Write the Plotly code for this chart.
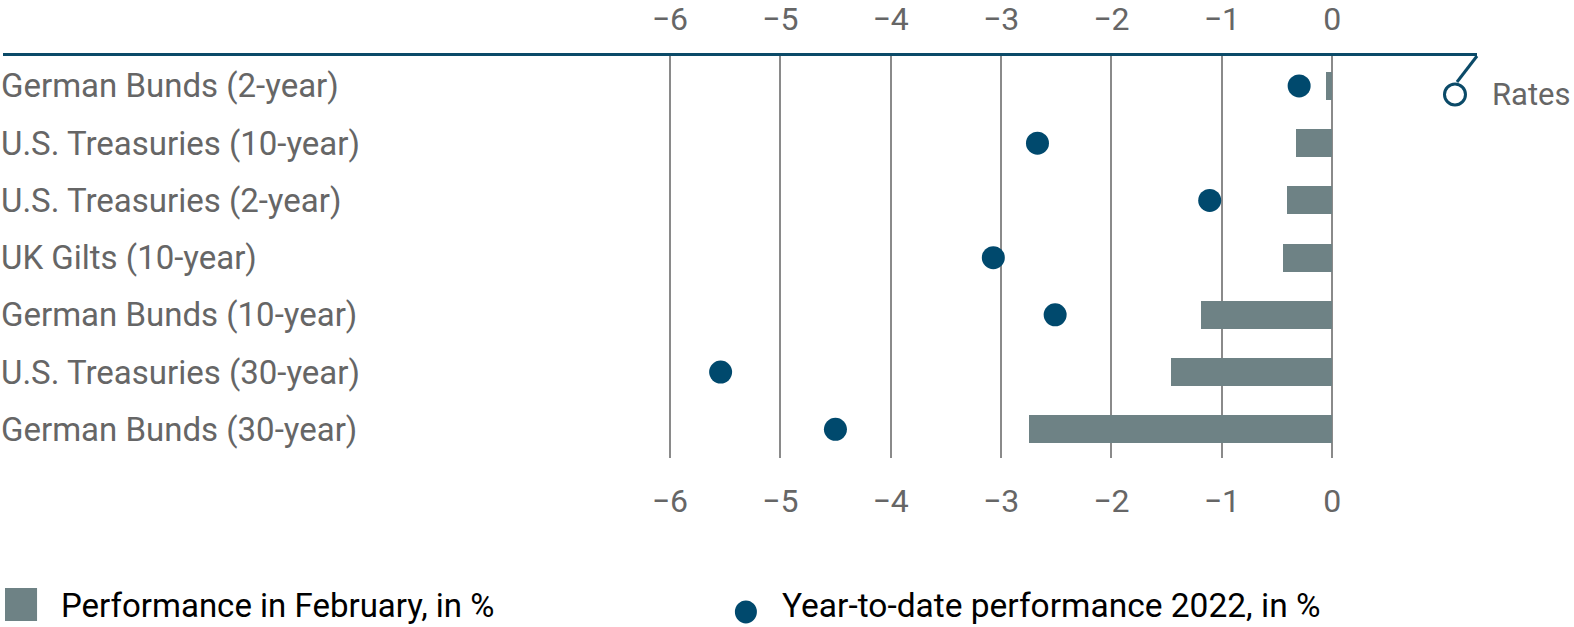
import plotly.graph_objects as go

# Bond performance, in %
categories = [
    "German Bunds (2-year)",
    "U.S. Treasuries (10-year)",
    "U.S. Treasuries (2-year)",
    "UK Gilts (10-year)",
    "German Bunds (10-year)",
    "U.S. Treasuries (30-year)",
    "German Bunds (30-year)",
]
feb_perf = [-0.06, -0.33, -0.41, -0.45, -1.19, -1.46, -2.75]
ytd_perf = [-0.30, -2.67, -1.11, -3.07, -2.51, -5.54, -4.50]
tick_vals = [-6, -5, -4, -3, -2, -1, 0]

BAR_COLOR = "#6e8285"
DOT_COLOR = "#00496d"
LINE_COLOR = "#0b4a68"
TEXT_GRAY = "#666666"
FONT = "Roboto"

fig = go.Figure()

fig.add_trace(go.Bar(
    x=feb_perf,
    y=categories,
    orientation="h",
    width=0.49,
    marker=dict(color=BAR_COLOR, line=dict(width=0)),
    name="Performance in February, in %",
    showlegend=False,
))

fig.add_trace(go.Scatter(
    x=ytd_perf,
    y=categories,
    mode="markers",
    marker=dict(color=DOT_COLOR, size=23, line=dict(width=0)),
    name="Year-to-date performance 2022, in %",
    showlegend=False,
))

# invisible trace so the top axis gets drawn
fig.add_trace(go.Scatter(x=[None], y=[None], xaxis="x2", showlegend=False, hoverinfo="skip"))

x_range = [-12.04, 1.311]

fig.update_layout(
    width=1574,
    height=627,
    margin=dict(l=3, r=97, t=56, b=169),
    paper_bgcolor="white",
    plot_bgcolor="white",
    font=dict(family=FONT, size=32, color=TEXT_GRAY),
    xaxis=dict(
        range=x_range,
        tickvals=tick_vals,
        showgrid=True,
        gridcolor="#8a8a8a",
        gridwidth=1.5,
        zeroline=False,
        showline=False,
        ticks="",
        automargin=False,
        ticklabelstandoff=21,
        tickfont=dict(family=FONT, size=32, color=TEXT_GRAY),
    ),
    xaxis2=dict(
        range=x_range,
        overlaying="x",
        side="top",
        tickvals=tick_vals,
        showgrid=False,
        zeroline=False,
        showline=True,
        linecolor=LINE_COLOR,
        linewidth=3,
        ticks="",
        automargin=False,
        ticklabelstandoff=10,
        tickfont=dict(family=FONT, size=32, color=TEXT_GRAY),
    ),
    yaxis=dict(
        type="category",
        categoryorder="array",
        categoryarray=categories,
        range=[6.502, -0.524],
        showticklabels=False,
        showgrid=False,
        zeroline=False,
        ticks="",
        automargin=False,
    ),
    bargap=0,
)

# category labels, left aligned at the edge of the chart
for cat in categories:
    fig.add_annotation(
        x=-0.003, xref="paper", y=cat, yref="y",
        text=cat, showarrow=False, xanchor="left", yanchor="middle",
        font=dict(family=FONT, size=33, color=TEXT_GRAY),
    )

# "Rates" marker at the end of the top axis line
fig.add_shape(
    type="line", xref="paper", yref="paper",
    x0=1, y0=1, x1=0.98643, y1=0.93532,
    line=dict(color=LINE_COLOR, width=3),
)
fig.add_shape(
    type="circle", xref="paper", yref="paper",
    xsizemode="pixel", ysizemode="pixel",
    xanchor=0.98507, yanchor=0.90423,
    x0=-10.5, x1=10.5, y0=-10.5, y1=10.5,
    line=dict(color=LINE_COLOR, width=3), fillcolor="white",
)
fig.add_annotation(
    x=1.0095, xref="paper", y=0.9042, yref="paper",
    text="Rates", showarrow=False, xanchor="left", yanchor="middle",
    borderpad=0,
    font=dict(family=FONT, size=31, color=TEXT_GRAY),
)

# legend drawn by hand
fig.add_shape(
    type="rect", xref="paper", yref="paper",
    x0=0.00136, x1=0.0231, y0=-0.4055, y1=-0.3234,
    line=dict(width=0), fillcolor=BAR_COLOR,
)
fig.add_annotation(
    x=0.038, xref="paper", y=-0.366, yref="paper",
    text="Performance in February, in %", showarrow=False,
    xanchor="left", yanchor="middle",
    font=dict(family=FONT, size=33, color="black"),
)
fig.add_shape(
    type="circle", xref="paper", yref="paper",
    xsizemode="pixel", ysizemode="pixel",
    xanchor=0.504, yanchor=-0.383,
    x0=-11, x1=11, y0=-11.5, y1=11.5,
    line=dict(width=0), fillcolor=DOT_COLOR,
)
fig.add_annotation(
    x=0.527, xref="paper", y=-0.366, yref="paper",
    text="Year-to-date performance 2022, in %", showarrow=False,
    xanchor="left", yanchor="middle",
    font=dict(family=FONT, size=33.5, color="black"),
)

fig.write_html(
    "out.html",
    config={"displayModeBar": False},
    post_script="document.body.style.margin='0px';",
)
